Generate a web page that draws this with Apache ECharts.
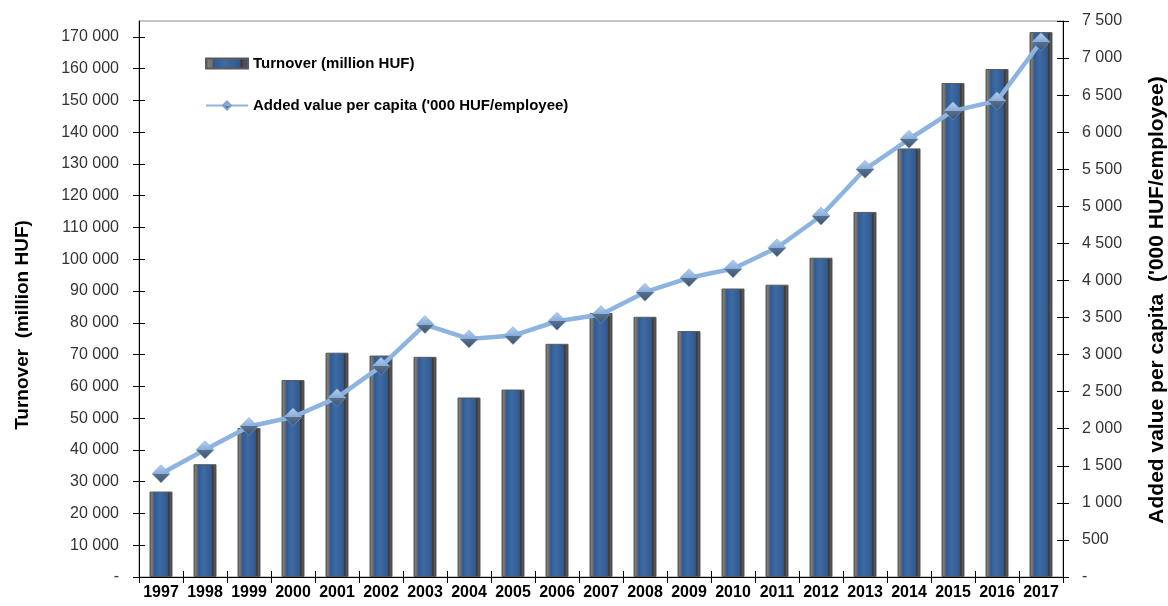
<!DOCTYPE html>
<html>
<head>
<meta charset="utf-8">
<script src="https://cdn.jsdelivr.net/npm/echarts@6/dist/echarts.min.js"></script>
<style>
html,body{margin:0;padding:0;background:#fff;}
#chart{width:1168px;height:606px;}
</style>
</head>
<body>
<div id="chart"></div>
<script>
const years = ['1997','1998','1999','2000','2001','2002','2003','2004','2005','2006','2007','2008','2009','2010','2011','2012','2013','2014','2015','2016','2017'];
const turnover = [26900, 35500, 46900, 62000, 70600, 69700, 69300, 56500, 59000, 73400, 83100, 81900, 77400, 90800, 92000, 100500, 114900, 134900, 155500, 159900, 171500];
const addedValue = [1392, 1716, 2031, 2158, 2419, 2842, 3405, 3212, 3257, 3450, 3541, 3842, 4036, 4158, 4441, 4869, 5500, 5905, 6288, 6423, 7220];
const leftTicks = [0,10000,20000,30000,40000,50000,60000,70000,80000,90000,100000,110000,120000,130000,140000,150000,160000,170000];
const rightTicks = [0,500,1000,1500,2000,2500,3000,3500,4000,4500,5000,5500,6000,6500,7000,7500];

const seriesNames = ['Turnover (million HUF)', "Added value per capita ('000 HUF/employee)"];
const axisTitles = ['Turnover  (million HUF)', "Added value per capita  ('000 HUF/employee)"];

function fmt(v){
  if (v === 0) return '-';
  return String(v).replace(/\B(?=(\d{3})+(?!\d))/g, ' ');
}

const FONT = '"Liberation Sans", Arial, sans-serif';
const chart = echarts.init(document.getElementById('chart'), null, {renderer:'canvas'});

const barColor = new echarts.graphic.LinearGradient(0,0,1,0,[
  {offset:0, color:'#4a4a4a'},
  {offset:0.08, color:'#7c7c7c'},
  {offset:0.17, color:'#6a6a6a'},
  {offset:0.19, color:'#2f5a90'},
  {offset:0.45, color:'#3e6ba4'},
  {offset:0.78, color:'#30598e'},
  {offset:0.82, color:'#3a3a3a'},
  {offset:0.92, color:'#555555'},
  {offset:1, color:'#333333'}
]);
const markerColor = new echarts.graphic.LinearGradient(0,0,0,1,[
  {offset:0, color:'#b4d0f0'},
  {offset:0.5, color:'#88acd8'},
  {offset:0.5, color:'#56708f'},
  {offset:1, color:'#3f5570'}
]);

const option = {
  animation:false,
  backgroundColor:'#fff',
  grid:{left:139, right:105, top:21, bottom:29, show:true, borderColor:'#8c8c8c', borderWidth:1, backgroundColor:'transparent'},
  legend:{
    orient:'vertical', left:200, top:51, itemGap:27, itemWidth:42, itemHeight:10,
    textStyle:{fontFamily:FONT, fontWeight:'bold', fontSize:15, color:'#000'},
    data:[
      {name:seriesNames[0], icon:'rect'},
      {name:seriesNames[1]}
    ]
  },
  xAxis:[{
    type:'category', data:years, position:'bottom',
    axisLine:{lineStyle:{color:'#000', width:1}},
    axisTick:{show:true, length:6, lineStyle:{color:'#000'}},
    axisLabel:{fontFamily:FONT, fontWeight:'bold', fontSize:16, color:'#000', margin:8, interval:0}
  },{
    type:'category', data:years, position:'bottom',
    axisLine:{show:false},
    axisTick:{show:true, inside:true, length:6, lineStyle:{color:'#000'}},
    axisLabel:{show:false}
  }],
  yAxis:[{
    type:'value', position:'left', min:0, max:175000, interval:10000,
    splitLine:{show:false},
    axisLine:{show:true, lineStyle:{color:'#000'}},
    axisTick:{show:true, length:6, lineStyle:{color:'#000'}, customValues:leftTicks},
    axisLabel:{fontFamily:FONT, fontSize:16, color:'#333', margin:20, formatter:fmt, customValues:leftTicks}
  },{
    type:'value', position:'right', min:0, max:7500, interval:500,
    splitLine:{show:false},
    axisLine:{show:true, lineStyle:{color:'#000'}},
    axisTick:{show:true, length:6, lineStyle:{color:'#000'}, customValues:rightTicks},
    axisLabel:{fontFamily:FONT, fontSize:16, color:'#333', margin:19, formatter:fmt, customValues:rightTicks}
  },{
    type:'value', position:'left', min:0, max:175000,
    splitLine:{show:false}, axisLine:{show:false}, axisLabel:{show:false},
    axisTick:{show:true, inside:true, length:6, lineStyle:{color:'#000'}, customValues:leftTicks}
  },{
    type:'value', position:'right', min:0, max:7500,
    splitLine:{show:false}, axisLine:{show:false}, axisLabel:{show:false},
    axisTick:{show:true, inside:true, length:6, lineStyle:{color:'#000'}, customValues:rightTicks}
  }],
  graphic:[
    {type:'text', x:23, y:325, rotation:Math.PI/2,
     style:{text:axisTitles[0], font:'bold 19px "Liberation Sans", Arial, sans-serif', fill:'#000', align:'center', verticalAlign:'middle'}},
    {type:'text', x:1157, y:300, rotation:Math.PI/2,
     style:{text:axisTitles[1], font:'bold 21px "Liberation Sans", Arial, sans-serif', fill:'#000', align:'center', verticalAlign:'middle'}}
  ],
  series:[{
    name:seriesNames[0], type:'bar', xAxisIndex:0, yAxisIndex:0,
    data:turnover, barWidth:23,
    itemStyle:{color:barColor, borderColor:'#5a5a5a', borderWidth:1}
  },{
    name:seriesNames[1], type:'line', xAxisIndex:0, yAxisIndex:1,
    data:addedValue, symbol:'diamond', symbolSize:[18,18],
    lineStyle:{color:'#8db3e0', width:4.5},
    itemStyle:{color:markerColor, borderColor:'#7f9fc6', borderWidth:0.5}
  }]
};
chart.setOption(option);
</script>
</body>
</html>
